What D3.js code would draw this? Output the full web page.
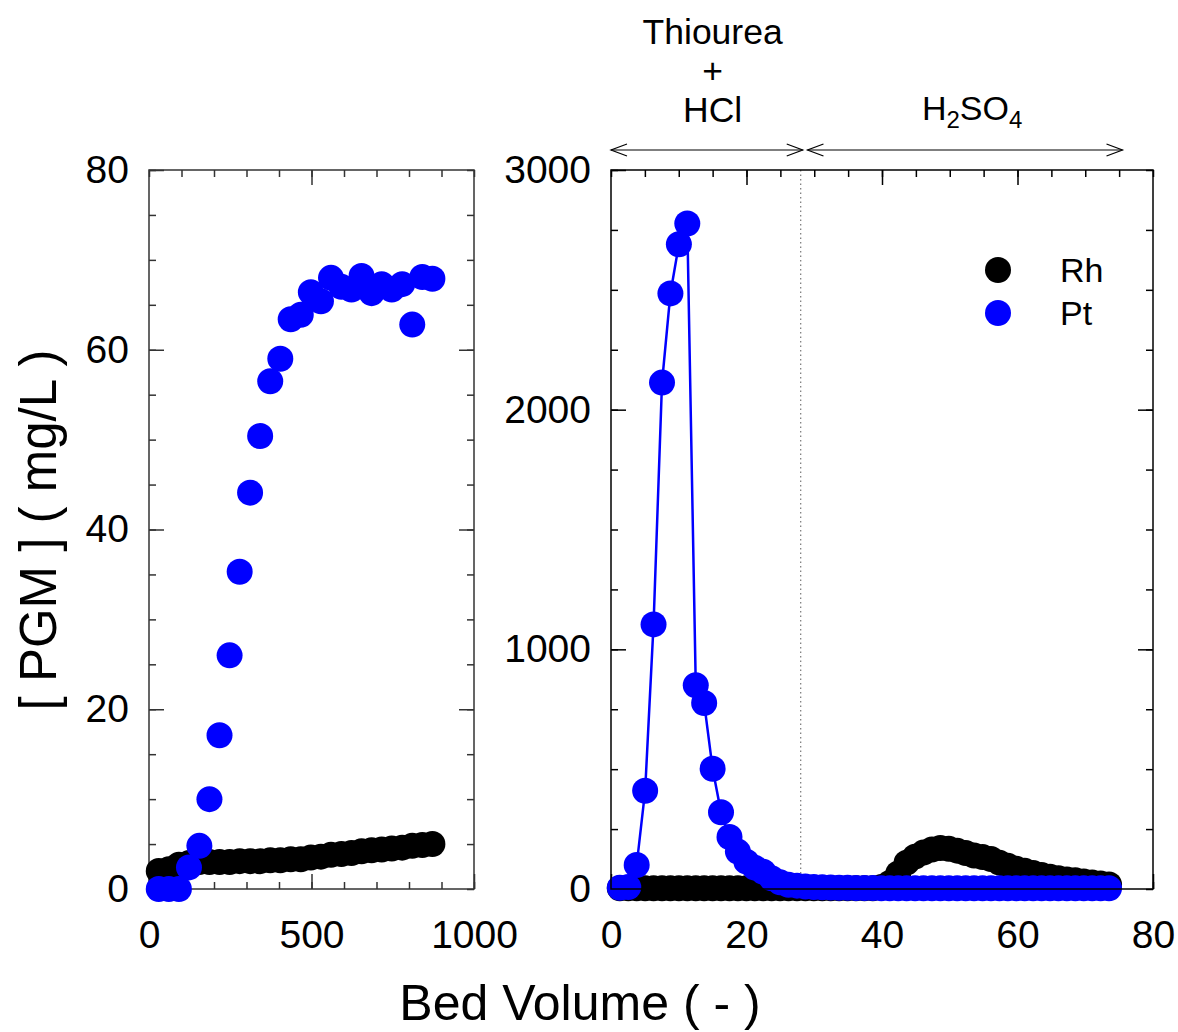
<!DOCTYPE html>
<html>
<head>
<meta charset="utf-8">
<script src="https://cdn.jsdelivr.net/npm/d3@7"></script>
<style>
  html, body { margin: 0; padding: 0; background: #fff; }
  svg { display: block; font-family: "Liberation Sans", Arial, sans-serif; }
</style>
</head>
<body>
<svg id="chart" width="1178" height="1032"></svg>
<script>
// ---------- DATA ----------
// Left panel (loading): Bed Volume vs concentration (mg/L)
const leftBV = [30, 61, 92, 123, 155, 186, 217, 248, 279, 311, 342, 373, 404, 436, 467, 498, 529, 560, 592, 623, 654, 685, 716, 747, 779, 810, 841, 872];
const leftPt = [0, 0, 0, 2.4, 4.8, 10.0, 17.1, 26.0, 35.3, 44.1, 50.4, 56.5, 59.0, 63.4, 63.9, 66.4, 65.4, 68.0, 67.0, 66.7, 68.2, 66.3, 67.3, 66.7, 67.3, 62.8, 68.1, 67.9];
const leftRh = [2.0, 2.2, 2.7, 2.9, 3.0, 3.0, 3.0, 3.0, 3.1, 3.1, 3.1, 3.2, 3.2, 3.3, 3.3, 3.5, 3.6, 3.8, 3.9, 4.0, 4.2, 4.3, 4.4, 4.5, 4.6, 4.8, 4.9, 5.0];

// Right panel (elution): Bed Volume vs concentration (mg/L)
const rightBV = [1.3, 2.55, 3.79, 5.04, 6.28, 7.53, 8.77, 10.02, 11.26, 12.51, 13.75, 15.0, 16.24, 17.49, 18.73, 19.98, 21.22, 22.47, 23.71, 24.96, 26.2, 27.45, 28.69, 29.94, 31.18, 32.43, 33.67, 34.92, 36.16, 37.41, 38.65, 39.9, 41.14, 42.39, 43.63, 44.88, 46.12, 47.37, 48.61, 49.86, 51.1, 52.35, 53.59, 54.84, 56.08, 57.33, 58.57, 59.82, 61.06, 62.31, 63.55, 64.8, 66.04, 67.29, 68.53, 69.78, 71.02, 72.27, 73.51];
const rightPt = [5, 8, 100, 410, 1104, 2113, 2485, 2690, 2777, 850, 776, 502, 320, 217, 156, 114, 89, 72, 45, 28, 18, 14, 10, 8, 7, 6, 5, 5, 4, 4, 4, 3, 3, 3, 3, 3, 3, 3, 3, 3, 3, 3, 3, 3, 3, 3, 3, 3, 3, 3, 3, 3, 3, 3, 3, 3, 3, 3, 3];
const rightRh = [3, 3, 3, 3, 3, 3, 3, 3, 3, 3, 3, 3, 3, 3, 3, 3, 3, 3, 3, 3, 3, 3, 3, 3, 3, 3, 3, 3, 3, 3, 3, 8, 25, 65, 110, 135, 152, 165, 171, 168, 160, 150, 140, 133, 125, 110, 97, 85, 76, 67, 58, 51, 45, 40, 36, 31, 27, 23, 19];

// Tick labels
const leftXTicks = [0, 500, 1000];
const leftYTicks = [0, 20, 40, 60, 80];
const rightXTicks = [0, 20, 40, 60, 80];
const rightYTicks = [0, 1000, 2000, 3000];

// Annotation regions (bed volume)
const eluentBoundary = 28;
const eluentArrows = [[0, 28.3], [29.0, 75.5]];
const seriesNames = ["Rh", "Pt"];
const seriesColors = ["#000000", "#0000ff"];

// ---------- DRAWING ----------
const svg = d3.select("#chart");
const R = 13;
const tickFont = 39;

function panel(opts) {
  const { x, y, xMajor, xMinor, yMajor, yMinor, frameColor } = opts;
  const g = svg.append("g");
  const [x0, x1] = x.range();
  const [y0, y1] = y.range(); // y0 bottom, y1 top
  const axG = g.append("g").attr("class", "axes");
  function addAxis(axisGen, tr, major, minor, label, bigLen, smallLen, pad) {
    const a1 = axG.append("g").attr("transform", tr)
      .call(axisGen.tickValues(minor).tickSize(-smallLen).tickFormat(""));
    a1.select(".domain").remove();
    const a2 = axG.append("g").attr("transform", tr)
      .call(axisGen.tickValues(major).tickSize(-bigLen).tickPadding(pad).tickFormat(label ? d3.format("d") : ""));
    a2.select(".domain").remove();
    axG.selectAll("line").attr("stroke", frameColor).attr("stroke-width", 1.5);
    a2.selectAll("text").attr("font-size", tickFont).attr("fill", "#000")
      .attr("font-family", "Liberation Sans, Arial, sans-serif");
    return a2;
  }
  addAxis(d3.axisBottom(x), `translate(0,${y0})`, xMajor, xMinor, true, 15, 7, 31);
  addAxis(d3.axisTop(x), `translate(0,${y1})`, xMajor.filter(v => v !== x.domain()[0] && v !== x.domain()[1]), xMinor, false, 15, 7, 0);
  addAxis(d3.axisLeft(y), `translate(${x0},0)`, yMajor, yMinor, true, 15, 7, 20);
  addAxis(d3.axisRight(y), `translate(${x1},0)`, yMajor.filter(v => v !== y.domain()[0] && v !== y.domain()[1]), yMinor, false, 15, 7, 0);
  return g;
}

// Left panel
const xL = d3.scaleLinear().domain([0, 1000]).range([149, 474]);
const yL = d3.scaleLinear().domain([0, 80]).range([889, 170]);
const gL = panel({ x: xL, y: yL, xMajor: leftXTicks, xMinor: d3.range(0, 1001, 100), yMajor: leftYTicks, yMinor: d3.range(0, 81, 5), frameColor: "#333" });
gL.insert("rect", ":first-child").attr("x", 149).attr("y", 170).attr("width", 474 - 149).attr("height", 889 - 170)
  .attr("fill", "none").attr("stroke", "#333").attr("stroke-width", 1.5);
gL.append("g").selectAll("circle").data(leftBV.map((v, i) => [v, leftRh[i]])).join("circle")
  .attr("cx", d => xL(d[0])).attr("cy", d => yL(d[1])).attr("r", R).attr("fill", seriesColors[0]);
gL.append("g").selectAll("circle").data(leftBV.map((v, i) => [v, leftPt[i]])).join("circle")
  .attr("cx", d => xL(d[0])).attr("cy", d => yL(d[1])).attr("r", R).attr("fill", seriesColors[1]);

// Right panel
const xR = d3.scaleLinear().domain([0, 80]).range([611, 1153]);
const yR = d3.scaleLinear().domain([0, 3000]).range([889, 170]);
const gR = panel({ x: xR, y: yR, xMajor: rightXTicks, xMinor: d3.range(0, 81, 5), yMajor: rightYTicks, yMinor: d3.range(0, 3001, 250), frameColor: "#000" });
gR.append("line").attr("x1", xR(eluentBoundary)).attr("x2", xR(eluentBoundary)).attr("y1", yR(3000)).attr("y2", yR(0))
  .attr("stroke", "#777").attr("stroke-width", 1.2).attr("stroke-dasharray", "1.5,3");
const lineR = d3.line().x(d => xR(d[0])).y(d => yR(d[1]));
const rhR = rightBV.map((v, i) => [v, rightRh[i]]);
const ptR = rightBV.map((v, i) => [v, rightPt[i]]);
gR.append("path").datum(rhR).attr("d", lineR).attr("fill", "none").attr("stroke", seriesColors[0]).attr("stroke-width", 2.5);
gR.append("g").selectAll("circle").data(rhR).join("circle")
  .attr("cx", d => xR(d[0])).attr("cy", d => yR(d[1])).attr("r", R).attr("fill", seriesColors[0]);
gR.append("path").datum(ptR).attr("d", lineR).attr("fill", "none").attr("stroke", seriesColors[1]).attr("stroke-width", 2.5);
gR.append("g").selectAll("circle").data(ptR).join("circle")
  .attr("cx", d => xR(d[0])).attr("cy", d => yR(d[1])).attr("r", R).attr("fill", seriesColors[1]);
// frame on top
gR.append("rect").attr("x", 611).attr("y", 170).attr("width", 1153 - 611).attr("height", 889 - 170)
  .attr("fill", "none").attr("stroke", "#000").attr("stroke-width", 1.5);

// Legend
const leg = svg.append("g");
seriesNames.forEach((name, i) => {
  const yy = 270 + i * 43;
  leg.append("circle").attr("cx", 998).attr("cy", yy).attr("r", R).attr("fill", seriesColors[i]);
  leg.append("text").attr("x", 1060).attr("y", yy + 12).attr("font-size", 34).text(name);
});

// Eluent arrows
const ay = 150;
eluentArrows.forEach(([a, b]) => {
  const xa = xR(a), xb = xR(b);
  const ag = svg.append("g").attr("stroke", "#000").attr("stroke-width", 1.2).attr("fill", "none");
  ag.append("line").attr("x1", xa).attr("x2", xb).attr("y1", ay).attr("y2", ay);
  ag.append("path").attr("d", `M${xa + 16},${ay - 6}L${xa},${ay}L${xa + 16},${ay + 6}`);
  ag.append("path").attr("d", `M${xb - 16},${ay - 6}L${xb},${ay}L${xb - 16},${ay + 6}`);
});
const annX1 = xR(15.0);
[["Thiourea", 44], ["+", 83], ["HCl", 122]].forEach(([t, yy]) => {
  svg.append("text").attr("x", annX1).attr("y", yy).attr("text-anchor", "middle").attr("font-size", 35.5).text(t);
});
const h2 = svg.append("text").attr("x", xR(53.3)).attr("y", 120).attr("text-anchor", "middle").attr("font-size", 34);
h2.append("tspan").text("H");
h2.append("tspan").attr("font-size", 24).attr("dy", 8).text("2");
h2.append("tspan").attr("dy", -8).text("SO");
h2.append("tspan").attr("font-size", 24).attr("dy", 8).text("4");

// Axis titles
svg.append("text").attr("x", 580).attr("y", 1020).attr("text-anchor", "middle").attr("font-size", 50).text("Bed Volume ( - )");
svg.append("text").attr("transform", "translate(56,530) rotate(-90)").attr("text-anchor", "middle").attr("font-size", 51).text("[ PGM ] ( mg/L )");
</script>
</body>
</html>
